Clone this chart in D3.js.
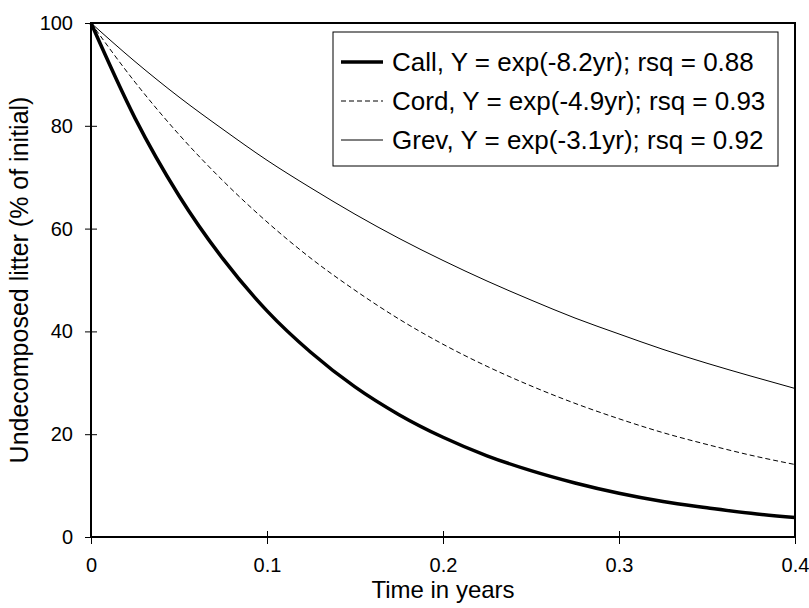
<!DOCTYPE html>
<html>
<head>
<meta charset="utf-8">
<script src="https://cdn.jsdelivr.net/npm/d3@7"></script>
<style>
  body { margin: 0; background: #fff; }
  svg text { font-family: "Liberation Sans", Arial, sans-serif; fill: #000; }
</style>
</head>
<body>
<script>
// ! DATA ! //
const years = [0, 0.025, 0.05, 0.075, 0.1, 0.125, 0.15, 0.175, 0.2, 0.225, 0.25, 0.275, 0.3, 0.325, 0.35, 0.375, 0.4];
const callValues = [100, 81.5, 66.4, 54.1, 44.0, 35.9, 29.2, 23.8, 19.4, 15.8, 12.9, 10.5, 8.5, 6.9, 5.7, 4.6, 3.8];
const cordValues = [100, 88.5, 78.3, 69.3, 61.3, 54.2, 48.0, 42.4, 37.5, 33.2, 29.4, 26.0, 23.0, 20.3, 18.0, 15.9, 14.1];
const grevValues = [100, 92.5, 85.6, 79.3, 73.3, 67.9, 62.8, 58.1, 53.8, 49.8, 46.1, 42.6, 39.5, 36.5, 33.8, 31.3, 28.9];
const seriesNames = ["Call, Y = exp(-8.2yr); rsq = 0.88", "Cord, Y = exp(-4.9yr); rsq = 0.93", "Grev, Y = exp(-3.1yr); rsq = 0.92"];
const xTicks = [0, 0.1, 0.2, 0.3, 0.4];
const yTicks = [0, 20, 40, 60, 80, 100];

// ^ LAYOUT ^ //
const width = 809, height = 608;
const margin = { left: 91, right: 14, top: 23, bottom: 71 };

const svg = d3.select("body").append("svg").attr("width", width).attr("height", height);

const x = d3.scaleLinear().domain([0, 0.4]).range([margin.left, width - margin.right]);
const y = d3.scaleLinear().domain([0, 100]).range([height - margin.bottom, margin.top]);

const styles = [
  { width: 3.5, dash: null },
  { width: 1, dash: "5,3" },
  { width: 1, dash: null },
];
const series = [callValues, cordValues, grevValues];

// ^ FRAME ^ //
svg.append("rect")
  .attr("x", x(0)).attr("y", y(100))
  .attr("width", x(0.4) - x(0)).attr("height", y(0) - y(100))
  .attr("fill", "none").attr("stroke", "#000").attr("stroke-width", 2);

// ^ AXES ^ //
const xAxis = svg.append("g")
  .attr("transform", `translate(0,${y(0)})`)
  .call(d3.axisBottom(x).tickValues(xTicks).tickSize(7).tickPadding(14).tickFormat(d => d === 0 ? "0" : d3.format(".1f")(d)));
xAxis.select(".domain").remove();
xAxis.selectAll(".tick line").attr("y1", -6).attr("stroke-width", 1);
xAxis.selectAll("text").style("font-size", "20px");

const yAxis = svg.append("g")
  .attr("transform", `translate(${x(0)},0)`)
  .call(d3.axisLeft(y).tickValues(yTicks).tickSize(6).tickPadding(12));
yAxis.select(".domain").remove();
yAxis.selectAll(".tick line").attr("x1", 6).attr("x2", -6).attr("stroke-width", 1);
yAxis.selectAll("text").style("font-size", "20px");

svg.append("text")
  .attr("x", (x(0) + x(0.4)) / 2).attr("y", 598)
  .attr("text-anchor", "middle").style("font-size", "24px")
  .text("Time in years");

svg.append("text")
  .attr("transform", `translate(28,${(y(0) + y(100)) / 2}) rotate(-90)`)
  .attr("text-anchor", "middle").style("font-size", "25px")
  .text("Undecomposed litter (% of initial)");

// ^ CURVES ^ //
const line = d3.line()
  .x((d, i) => x(years[i]))
  .y(d => y(d))
  .curve(d3.curveMonotoneX);

series.forEach((vals, i) => {
  svg.append("path")
    .datum(vals)
    .attr("d", line)
    .attr("fill", "none")
    .attr("stroke", "#000")
    .attr("stroke-width", styles[i].width)
    .attr("stroke-dasharray", styles[i].dash);
});

// ^ LEGEND ^ //
const legend = svg.append("g").attr("transform", "translate(333,32)");
legend.append("rect")
  .attr("width", 445).attr("height", 134)
  .attr("fill", "#fff").attr("stroke", "#000").attr("stroke-width", 1);

seriesNames.forEach((name, i) => {
  const cy = 30 + i * 39;
  legend.append("line")
    .attr("x1", 8).attr("x2", 50).attr("y1", cy).attr("y2", cy)
    .attr("stroke", "#000")
    .attr("stroke-width", styles[i].width)
    .attr("stroke-dasharray", styles[i].dash);
  legend.append("text")
    .attr("x", 59).attr("y", cy).attr("dy", "0.35em")
    .style("font-size", "26px")
    .text(name);
});
</script>
</body>
</html>
